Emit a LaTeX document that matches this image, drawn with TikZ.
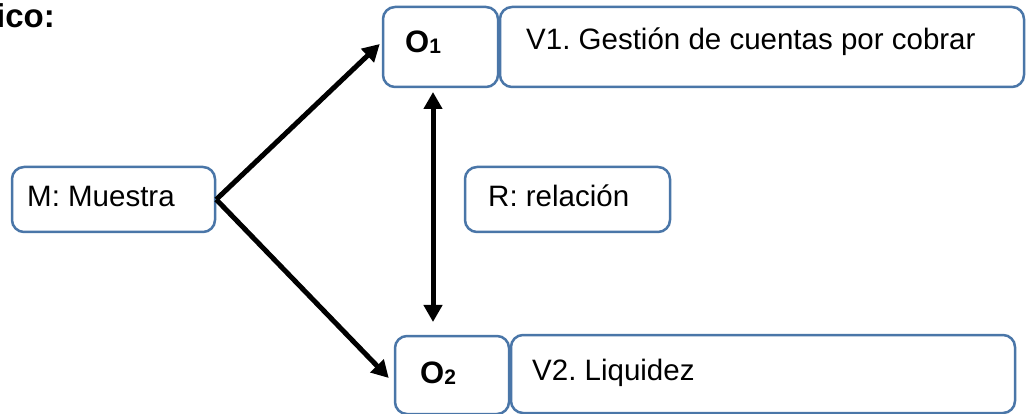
\documentclass[tikz,border=0pt]{standalone}
\usepackage{fontspec}
\setmainfont{Liberation Sans}
\usetikzlibrary{arrows.meta}
\definecolor{boxblue}{RGB}{74,118,168}
\begin{document}
\frenchspacing
\begin{tikzpicture}[x=1pt,y=-1pt,
  box/.style={draw=boxblue,line width=2.5pt,rounded corners=12pt,inner sep=0pt,fill=white},
  arr/.style={line width=5pt,-{Triangle[length=17pt,width=18pt]}},
  dblarr/.style={line width=5pt,{Triangle[length=17pt,width=18pt]}-{Triangle[length=17pt,width=18pt]}},
  txt/.style={anchor=base west,inner sep=0pt,font=\fontsize{29.5}{34}\selectfont},
  obj/.style={anchor=base west,inner sep=0pt,font=\fontsize{31}{34}\selectfont\bfseries}]
\useasboundingbox (0,0) rectangle (1026,414);
\node[txt,font=\fontsize{33}{36}\selectfont\bfseries] (title) at (-4,28) {ico:};
\node[box,minimum width=115pt,minimum height=80pt] (O1) at (440.5,47) {};
\node[box,minimum width=524pt,minimum height=80pt] (V1) at (762,47) {};
\node[box,minimum width=203pt,minimum height=65pt] (M) at (113.5,199.5) {};
\node[box,minimum width=205pt,minimum height=65pt] (R) at (567.5,199.5) {};
\node[box,minimum width=114pt,minimum height=78pt] (O2) at (452,375) {};
\node[box,minimum width=504pt,minimum height=78pt] (V2) at (763,374) {};
\node[obj] (tO1) at (405,53) {O\raisebox{-1pt}{\fontsize{21}{21}\selectfont 1}};
\node[obj] (tO2) at (420,383) {O\raisebox{-1pt}{\fontsize{21}{21}\selectfont 2}};
\node[txt] (tV1) at (526,50) {V1. Gestión de cuentas por cobrar};
\node[txt] (tV2) at (532,380) {V2. Liquidez};
\node[txt] (tM) at (27,207) {M: Muestra};
\node[txt] (tR) at (488,207) {R: relación};
\coordinate (va) at (433,92);
\coordinate (vb) at (433,322);
\draw[arr] (M.east) -- ([shift={(-2pt,3pt)}]O1.west);
\draw[arr] (M.east) -- ([shift={(-5pt,-3pt)}]O2.west);
\draw[dblarr] (va) -- (vb);
\end{tikzpicture}
\end{document}
